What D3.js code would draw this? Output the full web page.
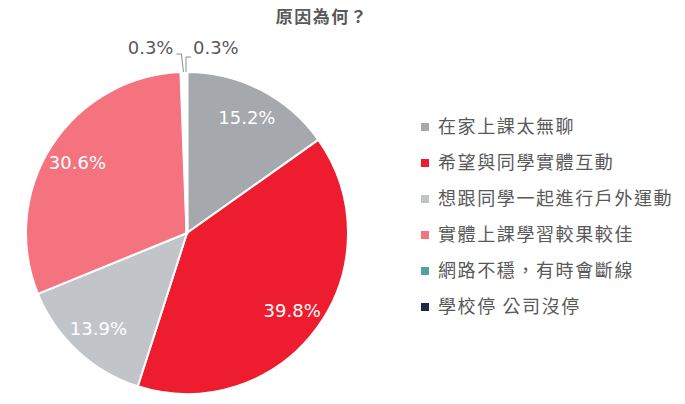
<!DOCTYPE html>
<html><head><meta charset="utf-8">
<script src="https://cdn.jsdelivr.net/npm/d3@7/dist/d3.min.js"></script>
<style>body{margin:0;background:#fff}svg{display:block}</style>
</head><body><svg id="c" width="685" height="404"></svg>
<script>
const title = "原因為何？";
const categories = ["在家上課太無聊","希望與同學實體互動","想跟同學一起進行戶外運動","實體上課學習較果較佳","網路不穩，有時會斷線","學校停 公司沒停"];
const values = [15.2, 39.8, 13.9, 30.6, 0.3, 0.3];
const colors = ["#A5A8AD","#ED1C2E","#C1C5CA","#F4737F","#4FA39A","#1B2A4A"];

const svg = d3.select("#c");
const cx = 187, cy = 233, R = 161;
const font = "'DejaVu Sans', Verdana, sans-serif";
const cjk = "'Noto Sans CJK TC', 'Noto Sans CJK SC', sans-serif";

svg.append("text").attr("x", 322).attr("y", 23).attr("text-anchor","middle")
  .attr("font-family", cjk).attr("font-weight","bold").attr("font-size",17)
  .attr("letter-spacing",1.5)
  .attr("fill","#595959").text(title);

const pie = d3.pie().sort(null).value(d => d)(values);
const arc = d3.arc().innerRadius(0).outerRadius(R);
const g = svg.append("g").attr("transform",`translate(${cx},${cy})`);
g.selectAll("path").data(pie).join("path")
  .attr("d", arc).attr("fill",(d,i)=>colors[i])
  .attr("stroke","#fff").attr("stroke-width",d => d.value < 1 ? 3 : 2)
  .attr("stroke-linejoin","round");

const labelArc = d3.arc().innerRadius(R*0.81).outerRadius(R*0.81);
const fmt = v => v.toFixed(1) + "%";
g.selectAll("text.in").data(pie.filter(d=>d.value>=1)).join("text")
  .attr("class","in")
  .attr("transform", d => {
    // Excel-like placement: pull labels slightly toward the horizontal
    const a = (d.startAngle + d.endAngle) / 2;
    const c = labelArc.centroid(d);
    return `translate(${c[0]},${c[1]})`;
  })
  .attr("text-anchor","middle").attr("dy","0.36em")
  .attr("font-family", font).attr("font-size",18).attr("fill","#fff")
  .text(d => fmt(d.value));

// small slices with leader lines
const small = pie.filter(d=>d.value<1);
const outer = d3.arc().innerRadius(R).outerRadius(R);
small.forEach((d,k) => {
  const p = outer.centroid(d);
  const left = k === 0;
  const ly = left ? -179 : -176;
  const pts = left
    ? [[p[0]+1, p[1]], [p[0]-1, ly], [p[0]-6, ly]]
    : [[p[0]+0.5, p[1]], [p[0]+0.5, ly], [p[0]+5.5, ly]];
  g.append("polyline").attr("points", pts.map(q=>q.join(",")).join(" "))
    .attr("fill","none").attr("stroke","#8C8C8C").attr("stroke-width",1);
  const end = pts[2];
  g.append("text").attr("x", left ? end[0]-3 : end[0]+2).attr("y", -185)
    .attr("text-anchor", left ? "end" : "start").attr("dy","0.36em")
    .attr("font-family", font).attr("font-size",18).attr("fill","#595959")
    .text(fmt(d.value));
});

// legend
const lg = svg.append("g").attr("transform","translate(421,127)");
const row = lg.selectAll("g").data(categories).join("g")
  .attr("transform",(d,i)=>`translate(0,${i*36})`);
row.append("rect").attr("x",0).attr("y",-4).attr("width",8).attr("height",8)
  .attr("fill",(d,i)=>colors[i]);
row.append("text").attr("x",17).attr("y",0).attr("dy","0.36em")
  .attr("font-family", cjk).attr("font-size",18).attr("letter-spacing",1.6)
  .attr("fill","#595959").text(d=>d);
</script></body></html>
